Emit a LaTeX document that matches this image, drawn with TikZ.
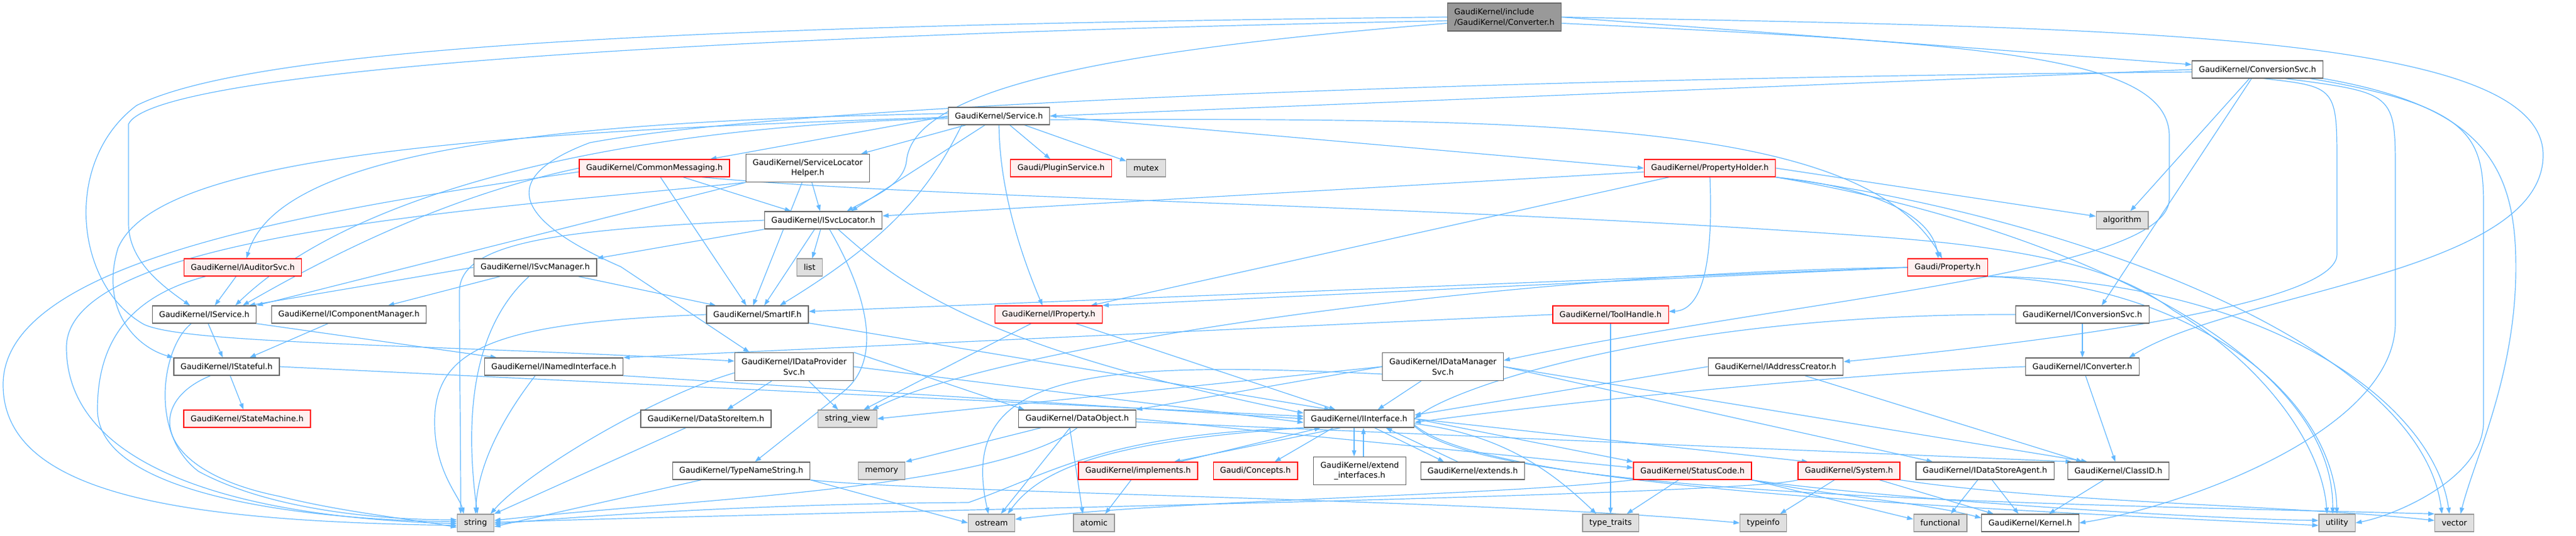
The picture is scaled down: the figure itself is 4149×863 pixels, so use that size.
\documentclass[tikz,border=0pt]{standalone}
\usepackage{fontspec}
\setmainfont{DejaVu Sans}
\usetikzlibrary{arrows.meta}
\pgfdeclarelayer{bg}
\pgfsetlayers{bg,main}
\definecolor{edgeblue}{HTML}{63B8FF}
\definecolor{hdrline}{HTML}{666666}
\definecolor{truncfill}{HTML}{FFF0F0}
\definecolor{stdfill}{HTML}{E0E0E0}
\definecolor{stdline}{HTML}{999999}
\definecolor{rootfill}{HTML}{999999}

\begin{document}
\begin{tikzpicture}[x=1pt,y=-1pt,
  every node/.style={font=\fontsize{12.8}{16.7}\selectfont,inner xsep=11pt,inner ysep=0pt,minimum height=28pt,line width=1.3pt},
  hdr/.style={draw=hdrline,fill=white},
  trunc/.style={draw=red,fill=truncfill},
  stdbox/.style={draw=stdline,fill=stdfill},
  rootbox/.style={draw=hdrline,fill=rootfill,align=left,minimum height=45pt},
  twoline/.style={hdr,align=center,minimum height=45pt},
  dep/.style={draw=edgeblue,line width=1.2pt,-{Triangle[length=10pt,width=7pt]}}]
  \useasboundingbox (0,0) rectangle (4149,863);

  \node[rootbox] (conv) at (2423,27.5) {GaudiKernel/include\\/GaudiKernel/Converter.h};
  \node[hdr] (csvc) at (3636,112) {GaudiKernel/ConversionSvc.h};
  \node[hdr] (svc) at (1609,187) {GaudiKernel/Service.h};
  \node[trunc] (cm) at (1054,271) {GaudiKernel/CommonMessaging.h};
  \node[twoline] (slh) at (1301,271) {GaudiKernel/ServiceLocator\\Helper.h};
  \node[trunc] (plugin) at (1709,271) {Gaudi/PluginService.h};
  \node[stdbox] (mutex) at (1846,271) {mutex};
  \node[trunc] (ph) at (2754,271) {GaudiKernel/PropertyHolder.h};
  \node[hdr] (isl) at (1326,355) {GaudiKernel/ISvcLocator.h};
  \node[stdbox] (algo) at (3418,355) {algorithm};
  \node[trunc] (iaud) at (391,431) {GaudiKernel/IAuditorSvc.h};
  \node[hdr] (isvcmgr) at (862,431) {GaudiKernel/ISvcManager.h};
  \node[stdbox] (list) at (1304,431) {list};
  \node[trunc] (prop) at (3137,431) {Gaudi/Property.h};
  \node[hdr] (isvc) at (329,507) {GaudiKernel/IService.h};
  \node[hdr] (icm) at (562,507) {GaudiKernel/IComponentManager.h};
  \node[hdr] (smartif) at (1220,507) {GaudiKernel/SmartIF.h};
  \node[trunc] (iprop) at (1689,507) {GaudiKernel/IProperty.h};
  \node[trunc] (th) at (2594,507) {GaudiKernel/ToolHandle.h};
  \node[hdr] (icsvc) at (3354,507) {GaudiKernel/IConversionSvc.h};
  \node[hdr] (istate) at (365,591) {GaudiKernel/IStateful.h};
  \node[hdr] (inamed) at (892,591) {GaudiKernel/INamedInterface.h};
  \node[twoline] (idps) at (1279,591) {GaudiKernel/IDataProvider\\Svc.h};
  \node[twoline] (idms) at (2324,591) {GaudiKernel/IDataManager\\Svc.h};
  \node[hdr] (iac) at (2860,591) {GaudiKernel/IAddressCreator.h};
  \node[hdr] (iconv) at (3354,591) {GaudiKernel/IConverter.h};
  \node[trunc] (sm) at (398,675) {GaudiKernel/StateMachine.h};
  \node[hdr] (dsi) at (1137,675) {GaudiKernel/DataStoreItem.h};
  \node[stdbox] (sv) at (1365,675) {string\_view};
  \node[hdr] (dobj) at (1735,675) {GaudiKernel/DataObject.h};
  \node[hdr] (iif) at (2189,675) {GaudiKernel/IInterface.h};
  \node[hdr] (tns) at (1194,759) {GaudiKernel/TypeNameString.h};
  \node[stdbox] (memory) at (1420,759) {memory};
  \node[trunc] (impl) at (1833,759) {GaudiKernel/implements.h};
  \node[trunc] (concepts) at (2022,759) {Gaudi/Concepts.h};
  \node[twoline] (extif) at (2190,759) {GaudiKernel/extend\\\_interfaces.h};
  \node[hdr] (extends) at (2372,759) {GaudiKernel/extends.h};
  \node[trunc] (sc) at (2726,759) {GaudiKernel/StatusCode.h};
  \node[trunc] (system) at (2978,759) {GaudiKernel/System.h};
  \node[hdr] (idsa) at (3197,759) {GaudiKernel/IDataStoreAgent.h};
  \node[hdr] (classid) at (3412,759) {GaudiKernel/ClassID.h};
  \node[stdbox] (string) at (766,843) {string};
  \node[stdbox] (ostream) at (1597,843) {ostream};
  \node[stdbox] (atomic) at (1762,843) {atomic};
  \node[stdbox] (ttraits) at (2594,843) {type\_traits};
  \node[stdbox] (typeinfo) at (2840,843) {typeinfo};
  \node[stdbox] (functional) at (3125,843) {functional};
  \node[hdr] (kernel) at (3270,843) {GaudiKernel/Kernel.h};
  \node[stdbox] (utility) at (3764,843) {utility};
  \node[stdbox] (vector) at (3953,843) {vector};

  \begin{pgfonlayer}{bg}
  \draw[dep] (conv.east) -- (csvc);
  \draw[dep] (conv.east) .. controls (3400,45) and (4096,50) .. (4096,250) .. controls (4096,440) and (3600,470) .. ([xshift=75pt]iconv.north);
  \draw[dep] ([yshift=-10pt]conv.east) .. controls (3200,70) and (3494,90) .. (3494,220) -- (3494,320) .. controls (3494,440) and (2900,480) .. ([yshift=10pt]idms.east);
  \draw[dep] (conv.west) .. controls (1200,40) and (420,70) .. (220,170) .. controls (100,260) and (120,460) .. (232,523) .. controls (300,555) and (700,555) .. ([yshift=9pt]idps.west);
  \draw[dep] ([yshift=-6pt]conv.west) .. controls (1200,55) and (250,110) .. (207,200) -- (207,360) .. controls (207,420) and (260,460) .. ([xshift=-23pt]isvc.north);
  \draw[dep] ([yshift=-10pt]conv.west) .. controls (1800,80) and (1470,140) .. (1460,260) .. controls (1455,300) and (1400,320) .. ([xshift=38pt]isl.north);

  \draw[dep] (csvc.west) -- (svc.east);
  \draw[dep] ([yshift=-4pt]csvc.west) .. controls (2500,125) and (1300,165) .. (950,230) .. controls (790,290) and (840,360) .. (1000,430) -- ([xshift=-72pt]idps.north);
  \draw[dep] (csvc) -- ([xshift=31pt]icsvc.north);
  \draw[dep] (csvc) -- (algo);
  \draw[dep] ([xshift=10pt]csvc.south) .. controls (3764,140) .. (3764,270) -- (3764,410) .. controls (3764,500) and (3200,560) .. ([yshift=8pt]iac.east);
  \draw[dep] ([xshift=45pt]csvc.south) .. controls (3858,150) .. (3858,280) -- (3858,520) .. controls (3858,700) and (3500,820) .. (kernel.east);
  \draw[dep] ([xshift=85pt]csvc.south) .. controls (3980,170) and (4000,220) .. (4000,330) -- (4000,680) .. controls (4000,770) and (3860,830) .. (utility.east);
  \draw[dep] (csvc.south east) .. controls (3990,170) and (4050,260) .. (4052,420) .. controls (4055,600) and (3985,740) .. ([xshift=10pt]vector.north);

  \draw[dep] (svc.west) -- ([xshift=90pt]cm.north);
  \draw[dep] (svc) -- ([xshift=86pt]slh.north);
  \draw[dep] (svc) -- (plugin);
  \draw[dep] (svc) -- (mutex);
  \draw[dep] (svc) -- ([xshift=45pt]isl.north);
  \draw[dep] (svc.south) .. controls (1610,300) and (1640,400) .. ([xshift=-10pt]iprop.north);
  \draw[dep] ([yshift=4pt]svc.west) .. controls (900,195) and (450,240) .. ([xshift=6pt]iaud.north);
  \draw[dep] ([yshift=-4pt]svc.west) .. controls (1100,200) and (600,280) .. ([xshift=50pt]isvc.north);
  \draw[dep] ([yshift=-2pt]svc.west) .. controls (700,215) and (250,260) .. (190,400) .. controls (160,500) and (220,560) .. (istate.north west);
  \draw[dep] ([xshift=-60pt]svc.south) .. controls (1500,300) and (1440,380) .. ([xshift=36pt]smartif.north);
  \draw[dep] (svc.east) -- (ph.west);
  \draw[dep] ([yshift=-6pt]svc.east) .. controls (2500,190) and (3000,195) .. ([xshift=-9pt]prop.north);

  \draw[dep] (cm) -- ([xshift=-52pt]isl.north);
  \draw[dep] (cm) -- ([xshift=-18pt]smartif.north);
  \draw[dep] (cm.west) .. controls (700,320) and (500,430) .. ([xshift=62pt]isvc.north);
  \draw[dep] ([yshift=-6pt]cm.west) .. controls (500,340) and (5,420) .. (5,620) .. controls (5,800) and (300,840) .. ([yshift=-4pt]string.west);
  \draw[dep] ([xshift=77pt]cm.south) .. controls (1500,320) and (2300,330) .. (3000,380) .. controls (3300,400) and (3420,440) .. (3500,500) .. controls (3650,590) and (3740,720) .. ([xshift=-16pt]utility.north);

  \draw[dep] (slh) -- ([xshift=-5pt]isl.north);
  \draw[dep] (slh) -- ([xshift=-7pt]smartif.north);
  \draw[dep] (slh.south west) -- (isvc.north east);
  \draw[dep] (slh.south west) .. controls (750,340) and (107,380) .. (107,560) .. controls (107,760) and (400,835) .. ([yshift=-1pt]string.west);

  \draw[dep] (ph.south east) .. controls (3000,300) and (3110,340) .. ([xshift=-15pt]prop.north);
  \draw[dep] (ph.east) -- (algo);
  \draw[dep] (ph) -- ([yshift=7pt]isl.east);
  \draw[dep] (ph) -- ([xshift=68pt]iprop.north);
  \draw[dep] (ph.south) .. controls (2760,430) and (2740,500) .. ([yshift=5pt]th.east);
  \draw[dep] (ph.south east) .. controls (3300,360) and (3760,560) .. ([xshift=-7pt]utility.north);
  \draw[dep] (ph.south east) .. controls (3350,350) and (3900,560) .. ([xshift=-20pt]vector.north);

  \draw[dep] (isl.south west) -- (isvcmgr.north east);
  \draw[dep] (isl) -- (list);
  \draw[dep] ([xshift=-14pt]isl.south) -- ([xshift=11pt]smartif.north);
  \draw[dep] (isl.west) .. controls (900,370) and (740,390) .. (740,470) .. controls (740,600) and (742,700) .. ([xshift=-24pt]string.north);
  \draw[dep] ([xshift=24pt]isl.south) .. controls (1450,460) and (1580,560) .. ([yshift=9pt]iif.west);
  \draw[dep] ([xshift=10pt]isl.south) .. controls (1400,480) and (1420,580) .. (1360,630) -- ([xshift=22pt]tns.north);

  \draw[dep] (iaud) -- ([xshift=17pt]isvc.north);
  \draw[dep] ([xshift=-60pt]iaud.south) .. controls (200,480) and (157,560) .. (157,660) .. controls (157,800) and (500,838) .. ([yshift=2pt]string.west);

  \draw[dep] (isvcmgr) -- ([xshift=63pt]icm.north);
  \draw[dep] (isvcmgr.west) -- ([xshift=72pt]isvc.north);
  \draw[dep] (isvcmgr) -- ([xshift=-67pt]smartif.north);
  \draw[dep] ([xshift=-10pt]isvcmgr.south) .. controls (770,520) and (745,650) .. ([xshift=3pt]string.north);

  \draw[dep] (prop.west) -- ([yshift=5pt]smartif.east);
  \draw[dep] (prop.west) -- (iprop.north east);
  \draw[dep] (prop.west) .. controls (2400,440) and (1600,560) .. ([xshift=40pt]sv.north);
  \draw[dep] (prop.south east) .. controls (3550,460) and (3760,650) .. (utility.north);
  \draw[dep] (prop.south east) .. controls (3650,450) and (3920,650) .. ([xshift=-8pt]vector.north);

  \draw[dep] (isvc) -- (istate);
  \draw[dep] (isvc.south east) -- ([xshift=-92pt]inamed.north);
  \draw[dep] ([xshift=-21pt]isvc.south) .. controls (260,560) and (240,700) .. (320,760) .. controls (450,830) and (650,838) .. ([yshift=5pt]string.west);

  \draw[dep] (icm) -- ([xshift=37pt]istate.north);

  \draw[dep] (istate) -- (sm);
  \draw[dep] (istate.east) -- ([yshift=4pt]iif.west);
  \draw[dep] ([xshift=-26pt]istate.south) .. controls (230,650) and (250,760) .. (450,800) .. controls (550,825) and (650,835) .. ([yshift=-7pt]string.west);

  \draw[dep] (inamed.south east) -- (iif.west);
  \draw[dep] ([xshift=-30pt]inamed.south) .. controls (820,660) and (770,740) .. (string.north);

  \draw[dep] (smartif) -- ([xshift=-46pt]iif.north);
  \draw[dep] (smartif.west) .. controls (800,520) and (700,560) .. (700,680) .. controls (700,760) and (740,800) .. ([xshift=-19pt]string.north);

  \draw[dep] (iprop) -- ([xshift=26pt]sv.north);
  \draw[dep] (iprop) -- ([xshift=-38pt]iif.north);

  \draw[dep] (th.west) -- (inamed.north east);
  \draw[dep] (th) -- (ttraits);

  \draw[dep] (icsvc) -- (iconv);
  \draw[dep] (icsvc.west) .. controls (2700,505) and (2350,620) .. (iif.east);

  \draw[dep] (idps) -- ([xshift=34pt]dsi.north);
  \draw[dep] (idps) -- ([xshift=-15pt]sv.north);
  \draw[dep] ([yshift=-10pt]idps.west) .. controls (1050,640) and (850,760) .. ([xshift=24pt]string.north);
  \draw[dep] (idps.east) -- ([yshift=-6pt]iif.west);
  \draw[dep] (idps.north east) -- ([xshift=-85pt]dobj.north);

  \draw[dep] (idms) -- ([xshift=30pt]iif.north);
  \draw[dep] (idms.east) -- ([xshift=-50pt]classid.north);
  \draw[dep] (idms.east) -- ([xshift=-84pt]idsa.north);
  \draw[dep] (idms.west) -- (sv.east);
  \draw[dep] (idms.west) -- (dobj.north east);
  \draw[dep] ([yshift=-12pt]idms.west) .. controls (1750,580) and (1540,600) .. ([xshift=-5pt]ostream.north);

  \draw[dep] (iac) -- ([xshift=-58pt]classid.north);
  \draw[dep] (iac.west) -- ([yshift=6pt]iif.east);

  \draw[dep] (iconv) -- ([xshift=-5pt]classid.north);
  \draw[dep] (iconv.west) .. controls (3000,600) and (2500,650) .. ([yshift=-6pt]iif.east);

  \draw[dep] (dsi) -- (string.north east);

  \draw[dep] (dobj) -- (memory.north east);
  \draw[dep] (dobj.south) .. controls (1600,790) and (1100,805) .. ([yshift=4pt]string.east);
  \draw[dep] (dobj) -- ([xshift=15pt]ostream.north);
  \draw[dep] ([xshift=-12pt]dobj.south) -- ([xshift=-18pt]atomic.north);
  \draw[dep] (dobj.east) -- ([yshift=5pt]sc.west);
  \draw[dep] ([yshift=-5pt]dobj.east) -- ([xshift=-75pt]classid.north);

  \draw[dep] ([xshift=-30pt]iif.south) -- ([xshift=58pt]impl.north);
  \draw[dep] ([xshift=67pt]impl.north) -- ([xshift=-62pt]iif.south);
  \draw[dep] ([xshift=-42pt]iif.south) -- ([xshift=31pt]concepts.north);
  \draw[dep] ([xshift=-8pt]iif.south) -- ([xshift=-9pt]extif.north);
  \draw[dep] ([xshift=6pt]extif.north) -- ([xshift=7pt]iif.south);
  \draw[dep] ([xshift=25pt]iif.south) -- ([xshift=-46pt]extends.north);
  \draw[dep] ([xshift=-24pt]extends.north) -- ([xshift=43pt]iif.south);
  \draw[dep] (iif.east) -- (sc.north west);
  \draw[dep] (iif.east) -- ([xshift=-66pt]system.north);
  \draw[dep] ([yshift=-8pt]iif.east) .. controls (2420,700) and (2500,760) .. ([xshift=-23pt]ttraits.north);
  \draw[dep] (iif.south west) .. controls (1800,710) and (1680,750) .. ([xshift=26pt]ostream.north);
  \draw[dep] (iif.south west) .. controls (1780,700) and (1700,760) .. (1560,810) .. controls (1200,812) and (900,835) .. ([yshift=-2pt]string.east);
  \draw[dep] ([yshift=-10pt]iif.east) .. controls (2400,790) and (3200,820) .. ([yshift=-4pt]utility.west);
  \draw[dep] ([yshift=-12pt]iif.east) .. controls (2400,800) and (3300,812) .. (vector.north west);

  \draw[dep] (impl) -- ([xshift=18pt]atomic.north);

  \draw[dep] (tns) -- ([yshift=-6pt]string.east);
  \draw[dep] (tns.south east) -- (ostream.west);
  \draw[dep] (tns.south east) .. controls (1500,795) and (2400,805) .. (typeinfo.west);

  \draw[dep] (sc.south west) .. controls (2400,800) and (1900,805) .. ([yshift=6pt]ostream.east);
  \draw[dep] (sc) -- ([xshift=26pt]ttraits.north);
  \draw[dep] (sc.south east) .. controls (3000,800) and (3500,835) .. ([yshift=4pt]utility.west);
  \draw[dep] (sc.south east) .. controls (2950,800) and (3100,810) .. ([yshift=8pt]kernel.west);
  \draw[dep] (sc.south east) -- ([yshift=6pt]functional.west);

  \draw[dep] (system) -- ([xshift=27pt]typeinfo.north);
  \draw[dep] (system.south west) .. controls (2800,800) and (1300,825) .. ([yshift=1pt]string.east);
  \draw[dep] (system) -- ([xshift=-59pt]kernel.north);
  \draw[dep] (system.south east) .. controls (3300,810) and (3700,815) .. ([yshift=4pt]vector.west);

  \draw[dep] (idsa) -- ([xshift=17pt]functional.north);
  \draw[dep] (idsa) -- ([xshift=-19pt]kernel.north);
  \draw[dep] (classid) -- ([xshift=30pt]kernel.north);
  \end{pgfonlayer}
\end{tikzpicture}
\end{document}
